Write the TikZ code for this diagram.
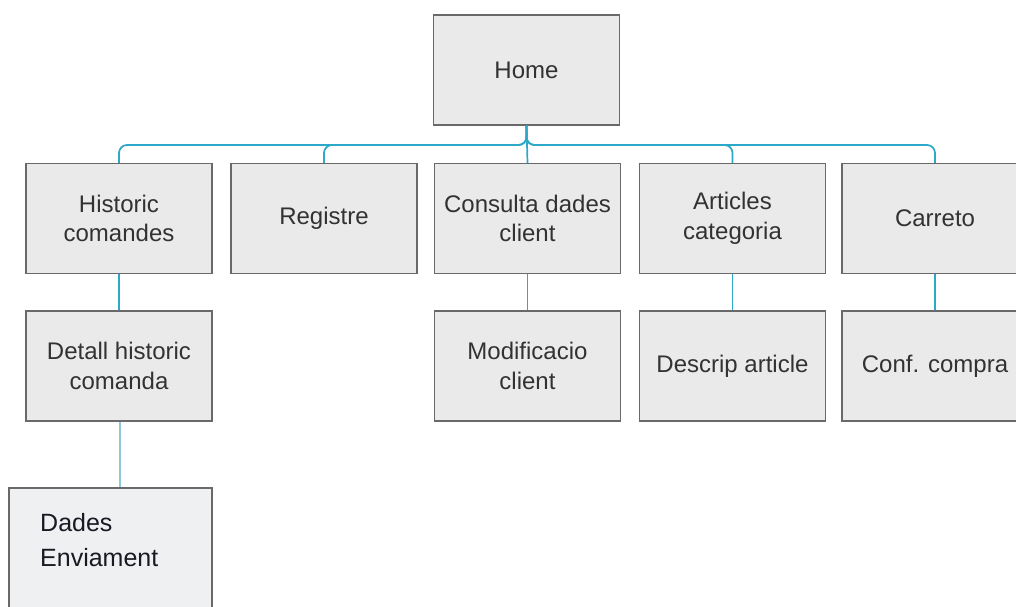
\documentclass[tikz,border=0pt]{standalone}
\usepackage{fontspec}
\setmainfont{Liberation Sans}
\begin{document}
\begin{tikzpicture}[x=1pt,y=-1pt,
  box/.style={draw={rgb,255:red,105;green,105;blue,105}, line width=1.1pt,
    fill={rgb,255:red,234;green,234;blue,234}, minimum width=186pt, minimum height=110pt,
    inner sep=0pt, align=center, text={rgb,255:red,50;green,50;blue,50},
    font=\fontsize{24}{29.5}\selectfont},
  conn/.style={draw={rgb,255:red,45;green,168;blue,200}, line width=1.7pt, rounded corners=8pt},
  link/.style={draw={rgb,255:red,140;green,200;blue,215}, line width=2.4pt}]
\useasboundingbox (0,0) rectangle (1016,606);
\clip (0,0) rectangle (1016,606);
\fill[white] (0,0) rectangle (1016,606);
\node[box] (home) at (526.5,70) {Home};
\node[box] (hist) at (119,218.5) {Historic\\comandes};
\node[box] (reg) at (324,218.5) {Registre};
\node[box] (cons) at (527.5,218.5) {Consulta dades\\client};
\node[box] (art) at (732.5,218.5) {Articles\\categoria};
\node[box] (car) at (935,218.5) {Carreto};
\node[box] (det) at (119,366) {Detall historic\\comanda};
\node[box] (mod) at (527.5,366) {Modificacio\\client};
\node[box] (desc) at (732.5,366) {Descrip article};
\node[box] (conf) at (935,366) {Conf. compra};
\node[box, minimum width=203pt, minimum height=132pt, fill={rgb,255:red,238;green,240;blue,242}] (dades) at (110.5,554) {};
\node[anchor=west, align=left, inner sep=0pt, font=\fontsize{25}{35}\selectfont, text={rgb,255:red,25;green,25;blue,35}] (dadestxt) at (40,540) {Dades\\Enviament};
\coordinate (bus) at (526.5,145);
\draw[conn] (home.south) -- (bus) -| (hist.north);
\draw[conn] (home.south) -- (bus) -| (reg.north);
\draw[conn] (home.south) -- (cons.north);
\draw[conn] (home.south) -- (bus) -| (art.north);
\draw[conn] (home.south) -- (bus) -| (car.north);
\draw[conn] (hist.south) -- (det.north);
\draw[conn] (cons.south) -- (mod.north);
\draw[conn] (art.south) -- (desc.north);
\draw[conn] (car.south) -- (conf.north);
\draw[link] ([xshift=1pt]det.south) -- ([xshift=9.5pt]dades.north);
\end{tikzpicture}
\end{document}
